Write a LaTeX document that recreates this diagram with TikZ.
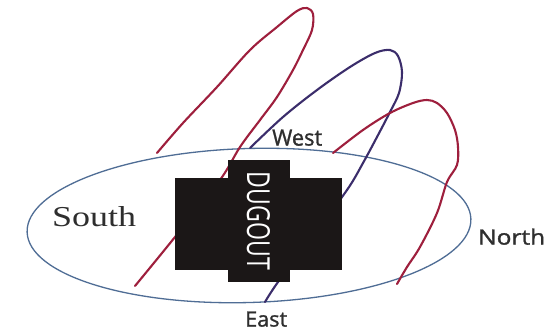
\documentclass[tikz,border=0pt]{standalone}
\usepackage{graphicx}
\usepackage{fontspec}
\setmainfont{Liberation Serif}
\newfontfamily\labelfont{Open Sans}
\newfontfamily\labelboldfont[FakeBold=1.2]{Open Sans}
\definecolor{ellblue}{HTML}{4F6D95}
\definecolor{loopred}{HTML}{9E1F3D}
\definecolor{looppurple}{HTML}{3B2D6B}
\definecolor{dugblack}{HTML}{1B1717}
\definecolor{labelgray}{HTML}{2E2E2E}
\tikzset{
  ellipseline/.style={draw=ellblue, line width=1.3pt},
  loopline/.style={line width=2.1pt, line cap=round, line join=round},
  dugoutbox/.style={fill=dugblack, draw=none},
  dirlabel/.style={inner sep=0pt, text=labelgray, font=\labelboldfont},
}
\begin{document}
\begin{tikzpicture}[x=1pt,y=-1pt]
\useasboundingbox (0,0) rectangle (552,334);
\fill[white] (0,0) rectangle (552,334);
% field ellipse
\draw[ellipseline, rotate around={1.7:(249,225.5)}] (249,225.5) ellipse [x radius=222, y radius=77];
% loops
\draw[loopline, draw=loopred] plot[smooth, tension=0.55] coordinates {(157,153) (183,123) (217,87) (250,50) (277,27) (297,11) (307,8) (313,14) (312,30) (303,50) (293,70) (277,97) (260,120) (240,147) (220,180) (175,237) (135,286)};
\draw[loopline, draw=looppurple] plot[smooth, tension=0.55] coordinates {(250,148) (283,117) (317,90) (350,67) (375,53) (390,50) (398,56) (402,72) (399,93) (390,112) (377,137) (363,163) (347,190) (310,240) (278,282) (265,302)};
\draw[loopline, draw=loopred] plot[smooth, tension=0.55] coordinates {(333,153) (363,130) (390,113) (413,103) (427,100) (437,103) (447,113) (455,130) (458,147) (457,165) (447,182) (437,213) (420,247) (407,267) (397,284)};
% dugout
\path[dugoutbox] (175,178) rectangle (342,270);
\path[dugoutbox] (228,160) rectangle (290,282);
\node[inner sep=0pt, text=white, font=\labelfont, rotate=-90] (dug) at (258.5,221) {\resizebox{98pt}{23pt}{DUGOUT}};
% labels
\node[anchor=south west, inner sep=0pt, text=labelgray] (south) at (52,227) {\resizebox{84pt}{20pt}{South}};
\node[dirlabel, anchor=south west] (west) at (272,146) {\resizebox{50pt}{16pt}{West}};
\node[dirlabel, anchor=south west] (north) at (478,245) {\resizebox{67pt}{16pt}{North}};
\node[dirlabel, anchor=south west] (east) at (245,327) {\resizebox{42pt}{15pt}{East}};
\end{tikzpicture}
\end{document}
